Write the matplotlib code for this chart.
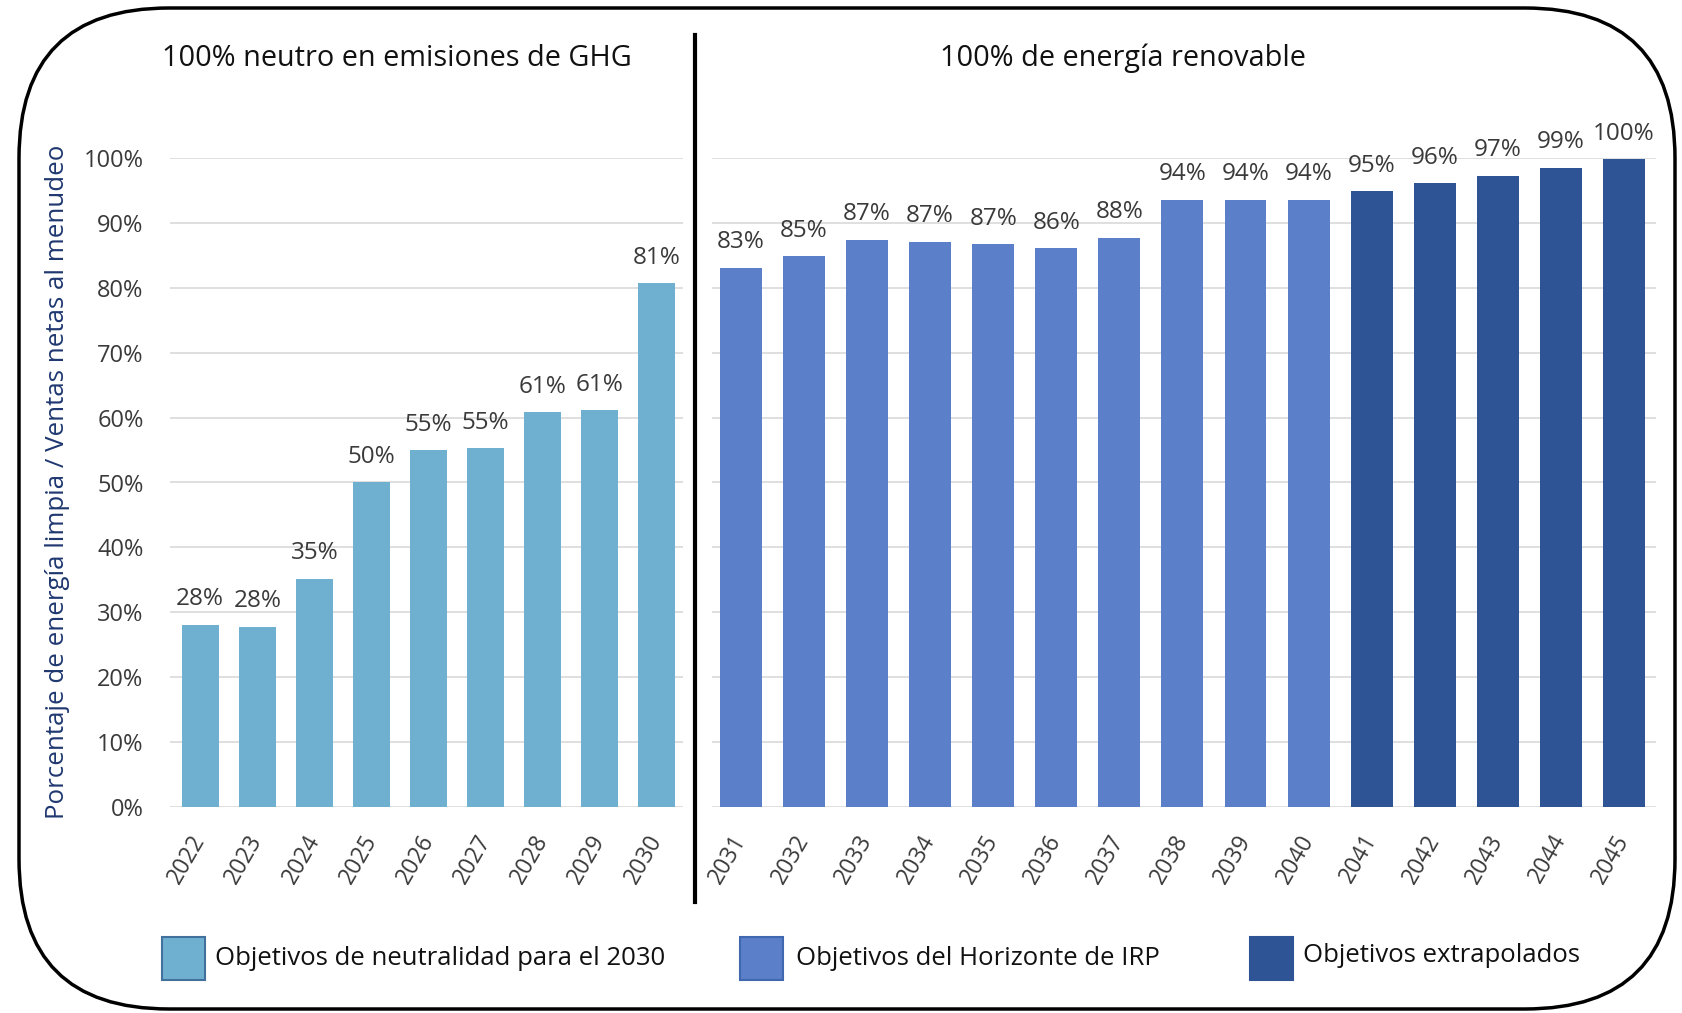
import matplotlib
matplotlib.use("Agg")
import matplotlib.pyplot as plt
from matplotlib.patches import FancyBboxPatch, Rectangle
from matplotlib.lines import Line2D
from matplotlib.transforms import IdentityTransform

plt.rcParams['font.family'] = ['Open Sans', 'DejaVu Sans']

# data
years_a = ['2022', '2023', '2024', '2025', '2026', '2027', '2028', '2029', '2030']
vals_a = [28.1, 27.8, 35.2, 50.0, 55.0, 55.3, 60.8, 61.1, 80.7]
labels_a = ['28%', '28%', '35%', '50%', '55%', '55%', '61%', '61%', '81%']

years_b = ['2031', '2032', '2033', '2034', '2035', '2036', '2037', '2038',
           '2039', '2040', '2041', '2042', '2043', '2044', '2045']
vals_b = [83.1, 84.9, 87.4, 87.1, 86.7, 86.1, 87.7, 93.6, 93.6, 93.6,
          94.9, 96.1, 97.3, 98.5, 99.8]
labels_b = ['83%', '85%', '87%', '87%', '87%', '86%', '88%', '94%', '94%', '94%',
            '95%', '96%', '97%', '99%', '100%']
group_b = ['irp'] * 10 + ['extra'] * 5

yticks = [0, 10, 20, 30, 40, 50, 60, 70, 80, 90, 100]
ytick_labels = ['0%', '10%', '20%', '30%', '40%', '50%', '60%', '70%', '80%', '90%', '100%']

title_a = '100% neutro en emisiones de GHG'
title_b = '100% de energía renovable'
ylabel = 'Porcentaje de energía limpia / Ventas netas al menudeo'
legend_labels = ['Objetivos de neutralidad para el 2030',
                 'Objetivos del Horizonte de IRP',
                 'Objetivos extrapolados']

c_light = '#6fb0d0'
c_mid = '#5b80c9'
c_dark = '#2e5496'
colors = {'irp': c_mid, 'extra': c_dark}
text_col = '#3a3a3a'
grid_col = '#d9d9d9'

W, H = 1683, 1013
fig = plt.figure(figsize=(W / 100, H / 100), dpi=100)


def px_axes(x0, x1, ytop, ybot):
    return fig.add_axes([x0 / W, (H - ybot) / H, (x1 - x0) / W, (ybot - ytop) / H])


def style(ax, n, xl, xr, years):
    ax.set_xlim(xl, xr)
    ax.set_ylim(0, 100)
    for s in ax.spines.values():
        s.set_visible(False)
    ax.set_yticks(yticks)
    ax.yaxis.grid(True, color=grid_col, lw=1.2)
    ax.set_axisbelow(True)
    ax.set_xticks(range(n))
    ax.set_xticklabels(years)
    ax.tick_params(axis='both', length=0, colors=text_col)
    ax.tick_params(axis='x', pad=21, labelsize=16.5)
    for lab in ax.get_xticklabels():
        lab.set_rotation(60)
        lab.set_ha('right')
        lab.set_va('center')
        lab.set_rotation_mode('anchor')


def bar_labels(ax, vals, labels):
    for i, (v, t) in enumerate(zip(vals, labels)):
        ax.annotate(t, (i, v), xytext=(0, 14), textcoords='offset points', ha='center',
                    va='baseline', fontsize=17.5, color=text_col, annotation_clip=False)


ax1 = px_axes(170, 683, 158, 807)
ax1.bar(range(len(vals_a)), vals_a, width=0.65, color=c_light, zorder=2)
style(ax1, len(vals_a), -0.53, 8.46, years_a)
ax1.set_yticklabels(ytick_labels)
ax1.tick_params(axis='y', pad=19, labelsize=17)
bar_labels(ax1, vals_a, labels_a)

ax2 = px_axes(712, 1656, 158, 807)
ax2.bar(range(len(vals_b)), vals_b, width=0.665, color=[colors[g] for g in group_b], zorder=2)
style(ax2, len(vals_b), -0.46, 14.51, years_b)
ax2.set_yticklabels([])
bar_labels(ax2, vals_b, labels_b)

# titles and y label
fig.text(397 / W, 1 - 58 / H, title_a, ha='center', va='center', fontsize=20.8, color='#111111')
fig.text(1123 / W, 1 - 58 / H, title_b, ha='center', va='center', fontsize=20.8, color='#111111')
fig.text(58 / W, 1 - 482 / H, ylabel, rotation=90, ha='center', va='center',
         fontsize=18.6, color='#1f3870')

# separator line
fig.add_artist(Line2D([695 / W, 695 / W], [1 - 35 / H, 1 - 902 / H],
                      transform=fig.transFigure, color='black', lw=3))

# legend
leg_colors = [c_light, c_mid, c_dark]
leg_edges = ['#41719c', '#4068b0', c_dark]
sq_x = [162, 740, 1250]
txt_x = [215, 796, 1303]
txt_y = [958, 958, 955]
for lab, col, ec, sx, tx, ty in zip(legend_labels, leg_colors, leg_edges, sq_x, txt_x, txt_y):
    fig.add_artist(Rectangle((sx / W, 1 - 980 / H), 43 / W, 43 / H, transform=fig.transFigure,
                             facecolor=col, edgecolor=ec, lw=1.5))
    fig.text(tx / W, 1 - ty / H, lab, ha='left', va='center', fontsize=18.5, color='#111111')

# rounded frame
frame = FancyBboxPatch((19, H - 1009), 1675 - 19, 1009 - 8,
                       boxstyle='round,pad=0,rounding_size=150',
                       transform=IdentityTransform(), facecolor='none',
                       edgecolor='black', lw=2.5)
fig.add_artist(frame)

fig.savefig('out.png', dpi=100, facecolor='white')
